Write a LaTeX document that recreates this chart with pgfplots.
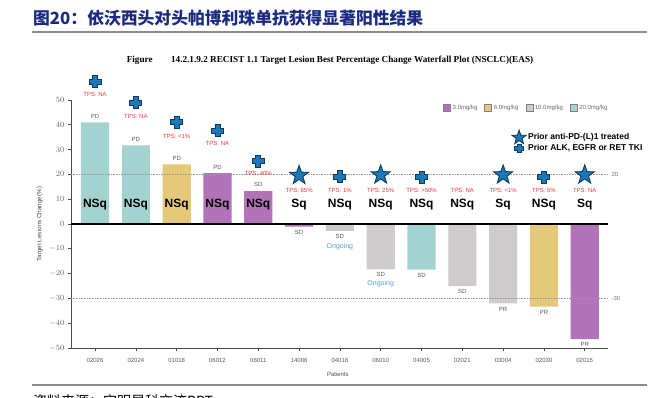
\documentclass[border=0pt]{standalone}
\usepackage{pgfplots}
\pgfplotsset{compat=1.18}
\usepackage{fontspec}
\setmainfont{Liberation Sans}
\newfontfamily\cjk{Noto Sans CJK SC}
\newfontfamily\tms{Liberation Serif}
\definecolor{cteal}{HTML}{A3D3D1}
\definecolor{cgold}{HTML}{E4C97A}
\definecolor{cpurple}{HTML}{B273B8}
\definecolor{cgray}{HTML}{CFCACB}
\definecolor{mfill}{HTML}{1C78B8}
\definecolor{mdraw}{HTML}{0B3A5C}
\definecolor{tpsred}{HTML}{E8383D}
\definecolor{ongo}{HTML}{5B9BD5}
\definecolor{titleblue}{HTML}{1A2A80}
\pgfdeclareplotmark{fstar}{%
  \pgfpathmoveto{\pgfpointpolar{90}{2*\pgfplotmarksize}}%
  \pgfpathlineto{\pgfpointpolar{126}{0.8*\pgfplotmarksize}}%
  \pgfpathlineto{\pgfpointpolar{162}{2*\pgfplotmarksize}}%
  \pgfpathlineto{\pgfpointpolar{198}{0.8*\pgfplotmarksize}}%
  \pgfpathlineto{\pgfpointpolar{234}{2*\pgfplotmarksize}}%
  \pgfpathlineto{\pgfpointpolar{270}{0.8*\pgfplotmarksize}}%
  \pgfpathlineto{\pgfpointpolar{306}{2*\pgfplotmarksize}}%
  \pgfpathlineto{\pgfpointpolar{342}{0.8*\pgfplotmarksize}}%
  \pgfpathlineto{\pgfpointpolar{18}{2*\pgfplotmarksize}}%
  \pgfpathlineto{\pgfpointpolar{54}{0.8*\pgfplotmarksize}}%
  \pgfpathclose
  \pgfusepathqfillstroke}
\pgfdeclareplotmark{fplus}{%
  \pgfmathsetlengthmacro\pa{0.5*\pgfplotmarksize}%
  \pgfmathsetlengthmacro\pb{1.2*\pgfplotmarksize}%
  \pgfpathmoveto{\pgfqpoint{-\pa}{\pb}}%
  \pgfpathlineto{\pgfqpoint{\pa}{\pb}}%
  \pgfpathlineto{\pgfqpoint{\pa}{\pa}}%
  \pgfpathlineto{\pgfqpoint{\pb}{\pa}}%
  \pgfpathlineto{\pgfqpoint{\pb}{-\pa}}%
  \pgfpathlineto{\pgfqpoint{\pa}{-\pa}}%
  \pgfpathlineto{\pgfqpoint{\pa}{-\pb}}%
  \pgfpathlineto{\pgfqpoint{-\pa}{-\pb}}%
  \pgfpathlineto{\pgfqpoint{-\pa}{-\pa}}%
  \pgfpathlineto{\pgfqpoint{-\pb}{-\pa}}%
  \pgfpathlineto{\pgfqpoint{-\pb}{\pa}}%
  \pgfpathlineto{\pgfqpoint{-\pa}{\pa}}%
  \pgfpathclose
  \pgfusepathqfillstroke}
\begin{document}
\begin{tikzpicture}
\useasboundingbox (0pt,0pt) rectangle (664pt,397pt);
\node[anchor=west, inner sep=0pt, text=titleblue, font=\cjk\bfseries\fontsize{16.8}{18}\selectfont] at (33pt,379pt) {图20：依沃西头对头帕博利珠单抗获得显著阳性结果};
\draw[color=black!45, line width=2pt] (32pt,365pt) -- (647pt,365pt);
\node[font=\tms\bfseries\fontsize{9.2}{10}\selectfont, inner sep=0pt] at (330pt,337pt) {Figure\hspace{2em}14.2.1.9.2 RECIST 1.1 Target Lesion Best Percentage Change Waterfall Plot (NSCLC)(EAS)};

\begin{axis}[
  at={(71pt,49pt)}, anchor=south west, scale only axis, width=537pt, height=248pt,
  xmin=-0.59, xmax=12.57, ymin=-50, ymax=50, clip=false,
  axis x line*=bottom, axis y line*=left,
  axis line style={black!70, line width=0.9pt},
  xtick={0,...,12},
  xticklabels={02026,02024,01018,06012,06011,14006,04018,06010,04005,02021,03004,02030,02015},
  ytick={-50,-40,...,50},
  tick align=outside, major tick length=3pt,
  every tick/.style={black!70, line width=0.7pt},
  x tick label style={font=\fontsize{6}{7}\selectfont, text=black!65, yshift=-4pt},
  y tick label style={font=\fontsize{8.5}{9}\selectfont, text=black!60},
  legend cell align=left,
  legend style={at={(0.821,0.879)}, anchor=north west, draw=none, fill=none,
    font=\bfseries\fontsize{8.5}{10}\selectfont, inner sep=0pt, row sep=-1pt},
  legend image code/.code={\draw[mark repeat=2,mark phase=2,#1] plot coordinates {(0pt,0pt) (5pt,0pt) (10pt,0pt)};},
  legend image post style={mark size=3.7pt},
]
\addplot[ybar, bar width=0.69, bar shift=0pt, fill=cteal, draw=none, forget plot] coordinates {(0,41) (1,31.7) (8,-18.4)};
\addplot[ybar, bar width=0.69, bar shift=0pt, fill=cgold, draw=none, forget plot] coordinates {(2,24) (11,-33.3)};
\addplot[ybar, bar width=0.69, bar shift=0pt, fill=cpurple, draw=none, forget plot] coordinates {(3,20.5) (4,13.3) (5,-1.1) (12,-46.4)};
\addplot[ybar, bar width=0.69, bar shift=0pt, fill=cgray, draw=none, forget plot] coordinates {(6,-2.8) (7,-18.3) (9,-25) (10,-32)};
\addplot[black, line width=1.2pt, forget plot] coordinates {(-0.59,0) (12.57,0)};
\addplot[black!40, densely dotted, line width=0.6pt, forget plot] coordinates {(-0.59,20) (12.57,20)};
\addplot[black!40, densely dotted, line width=0.6pt, forget plot] coordinates {(-0.59,-30) (12.57,-30)};
\addplot[only marks, mark=fstar, mark size=5pt, mark options={fill=mfill, draw=mdraw, line width=0.9pt}] coordinates {(5,19.6) (7,19.8) (10,19.8) (12,19.8)};
\addlegendentry{Prior anti-PD-(L)1 treated}
\addplot[only marks, mark=fplus, mark size=5pt, mark options={fill=mfill, draw=mdraw, line width=0.9pt}] coordinates {(0,57.3) (1,49) (2,41) (3,37.6) (4,25.4) (6,19) (8,18.8) (11,18.8)};
\addlegendentry{Prior ALK, EGFR or RET TKI}

\node[anchor=west, font=\fontsize{6}{7}\selectfont, text=black!55] at (axis cs:12.57,20) {20};
\node[anchor=west, font=\fontsize{6}{7}\selectfont, text=black!55] at (axis cs:12.57,-30) {-30};

% response labels
\begin{scope}[every node/.style={font=\fontsize{6}{7}\selectfont, text=black!65, inner sep=0pt}]
\node at (axis cs:0,43.5) {PD};
\node at (axis cs:1,34.2) {PD};
\node at (axis cs:2,26.5) {PD};
\node at (axis cs:3,23) {PD};
\node at (axis cs:4,15.8) {SD};
\node at (axis cs:5,-3.4) {SD};
\node at (axis cs:6,-5.1) {SD};
\node at (axis cs:7,-20.3) {SD};
\node at (axis cs:8,-20.6) {SD};
\node at (axis cs:9,-27.3) {SD};
\node at (axis cs:10,-34.4) {PR};
\node at (axis cs:11,-35.6) {PR};
\node at (axis cs:12,-48.7) {PR};
\end{scope}
\begin{scope}[every node/.style={font=\fontsize{7}{8}\selectfont, text=ongo, inner sep=0pt}]
\node at (axis cs:6,-9.1) {Ongoing};
\node at (axis cs:7,-23.9) {Ongoing};
\end{scope}
% histology
\begin{scope}[every node/.style={font=\bfseries\fontsize{12}{13}\selectfont, text=black, inner sep=0pt}]
\node at (axis cs:0,7.9) {NSq};
\node at (axis cs:1,7.9) {NSq};
\node at (axis cs:2,7.9) {NSq};
\node at (axis cs:3,7.9) {NSq};
\node at (axis cs:4,7.9) {NSq};
\node at (axis cs:5,7.9) {Sq};
\node at (axis cs:6,7.9) {NSq};
\node at (axis cs:7,7.9) {NSq};
\node at (axis cs:8,7.9) {NSq};
\node at (axis cs:9,7.9) {NSq};
\node at (axis cs:10,7.9) {Sq};
\node at (axis cs:11,7.9) {NSq};
\node at (axis cs:12,7.9) {Sq};
\end{scope}
% TPS
\begin{scope}[every node/.style={font=\fontsize{6}{7}\selectfont, text=tpsred, inner sep=0pt}]
\node at (axis cs:0,52.1) {TPS: NA};
\node at (axis cs:1,43.5) {TPS: NA};
\node at (axis cs:2,35.2) {TPS: <1\%};
\node at (axis cs:3,32.3) {TPS: NA};
\node at (axis cs:4,20.2) {TPS: 40\%};
\node at (axis cs:5,13.7) {TPS: 85\%};
\node at (axis cs:6,13.7) {TPS: 1\%};
\node at (axis cs:7,13.7) {TPS: 25\%};
\node at (axis cs:8,13.7) {TPS: >50\%};
\node at (axis cs:9,13.7) {TPS: NA};
\node at (axis cs:10,13.7) {TPS: <1\%};
\node at (axis cs:11,13.7) {TPS: 5\%};
\node at (axis cs:12,13.7) {TPS: NA};
\end{scope}
\node[rotate=90, font=\fontsize{6.3}{7}\selectfont, text=black!70] at (rel axis cs:-0.058,0.5) {Target Lesions Change(\%)};
\node[font=\fontsize{6}{7}\selectfont, text=black!70] at (rel axis cs:0.497,-0.105) {Patients};
\end{axis}

\begin{axis}[
  at={(71pt,49pt)}, anchor=south west, scale only axis, width=537pt, height=248pt,
  hide axis, xmin=0, xmax=1, ymin=0, ymax=1,
  legend columns=4,
  legend style={at={(0.693,0.99)}, anchor=north west, draw=none, fill=none,
    font=\fontsize{6}{7}\selectfont, text=black!60, inner sep=0pt,
    /tikz/every even column/.append style={column sep=5pt}},
  legend image code/.code={\draw[#1] (0pt,-3.5pt) rectangle (7pt,3.5pt);},
]
\addlegendimage{fill=cpurple, draw=black!50}
\addlegendentry{3.0mg/kg}
\addlegendimage{fill=cgold, draw=black!50}
\addlegendentry{6.0mg/kg}
\addlegendimage{fill=cgray, draw=black!50}
\addlegendentry{10.0mg/kg}
\addlegendimage{fill=cteal, draw=black!50}
\addlegendentry{20.0mg/kg}
\end{axis}

\draw[black!45, line width=2.5pt] (32pt,12pt) -- (647pt,12pt);
\node[anchor=west, inner sep=0pt, font=\cjk\fontsize{14}{16}\selectfont] at (33pt,-4pt) {资料来源：宜明昂科交流PPT};
\end{tikzpicture}
\end{document}
